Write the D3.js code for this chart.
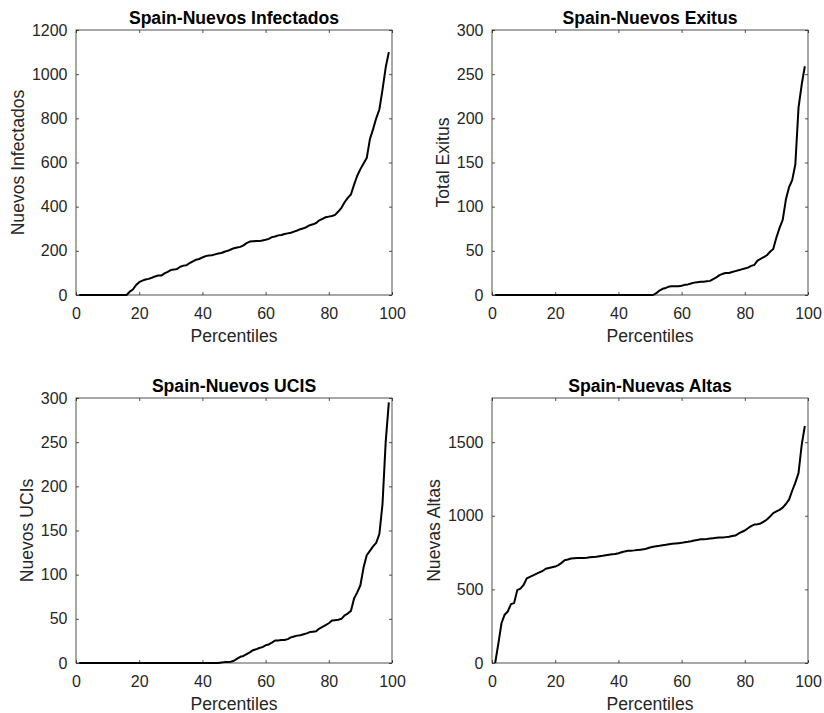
<!DOCTYPE html>
<html>
<head>
<meta charset="utf-8">
<script src="https://cdn.jsdelivr.net/npm/d3@7"></script>
<style>
  html, body { margin: 0; padding: 0; background: #fff; }
  svg { display: block; }
  text { font-family: "Liberation Sans", Arial, sans-serif; }
</style>
</head>
<body>
<svg id="chart" width="824" height="713"></svg>
<script>
// ---- Data ----
const percentiles = [
  1,2,3,4,5,6,7,8,9,10,11,12,13,14,15,16,17,18,19,20,
  21,22,23,24,25,26,27,28,29,30,31,32,33,34,35,36,37,38,39,40,
  41,42,43,44,45,46,47,48,49,50,51,52,53,54,55,56,57,58,59,60,
  61,62,63,64,65,66,67,68,69,70,71,72,73,74,75,76,77,78,79,80,
  81,82,83,84,85,86,87,88,89,90,91,92,93,94,95,96,97,98,99
];

const nuevosInfectados = [
  0,0,0,0,0,0,0,0,0,0,                 // 1-10
  0,0,0,0,0,0,15,25,45,58,             // 11-20
  65,70,73,78,84,88,88,98,105,113,     // 21-30
  115,118,128,133,135,145,152,160,163,170, // 31-40
  176,179,180,184,188,190,196,200,206,212, // 41-50
  215,218,225,235,242,243,244,244,247,250, // 51-60
  254,262,265,270,272,276,279,282,287,292, // 61-70
  298,302,308,316,320,326,338,345,352,355, // 71-80
  358,363,378,395,420,440,455,500,540,570, // 81-90
  595,620,705,750,800,840,930,1030,1100    // 91-99
];

const nuevosExitus = [
  0,0,0,0,0,0,0,0,0,0,                 // 1-10
  0,0,0,0,0,0,0,0,0,0,                 // 11-20
  0,0,0,0,0,0,0,0,0,0,                 // 21-30
  0,0,0,0,0,0,0,0,0,0,                 // 31-40
  0,0,0,0,0,0,0,0,0,0,                 // 41-50
  0,2,5,7,8,9.5,10,10,10,10.5,         // 51-60
  11.5,12,13,14,14.5,15,15,15.5,16,18, // 61-70
  20,22.5,24,25,25,26,27,28,29,30,     // 71-80
  31,33,34,39,41,43,45,49,52,65,       // 81-90
  76,85,108,122,130,148,212,238,259    // 91-99
];

const nuevosUCIs = [
  0,0,0,0,0,0,0,0,0,0,                 // 1-10
  0,0,0,0,0,0,0,0,0,0,                 // 11-20
  0,0,0,0,0,0,0,0,0,0,                 // 21-30
  0,0,0,0,0,0,0,0,0,0,                 // 31-40
  0,0,0,0,0,0.5,1,1,1.5,2.5,           // 41-50
  5,7,8,10,12,14.5,15.5,17,18,20,      // 51-60
  21,23,25.5,25.5,26,26,27,29,30,31,   // 61-70
  31.5,32.5,33.5,35,35.5,36,39,41,43,45, // 71-80
  48,48.5,49,50,54,56,59,73,80,88,     // 81-90
  108,122,127,132,136,146,180,250,295  // 91-99
];

const nuevasAltas = [
  0,130,270,328,350,400,407,495,505,530,   // 1-10
  575,585,595,605,615,625,640,645,650,655, // 11-20
  665,680,698,703,710,712,713,714,714,715, // 21-30
  718,720,722,725,728,732,735,738,740,745, // 31-40
  752,758,762,763,765,768,770,772,778,785, // 41-50
  790,793,796,800,803,807,810,812,814,816, // 51-60
  820,823,827,832,836,840,840,842,845,848, // 61-70
  850,852,853,855,857,862,866,878,890,900, // 71-80
  915,930,940,942,948,960,975,995,1018,1030, // 81-90
  1040,1055,1080,1110,1170,1225,1290,1480,1610 // 91-99
];

const titles = ["Spain-Nuevos Infectados", "Spain-Nuevos Exitus", "Spain-Nuevos UCIS", "Spain-Nuevas Altas"];
const yLabels = ["Nuevos Infectados", "Total Exitus", "Nuevos UCIs", "Nuevas Altas"];
const xLabel = "Percentiles";
const xTicks = [0, 20, 40, 60, 80, 100];
const yTicksInfectados = [0, 200, 400, 600, 800, 1000, 1200];
const yTicksExitus = [0, 50, 100, 150, 200, 250, 300];
const yTicksUCIs = [0, 50, 100, 150, 200, 250, 300];
const yTicksAltas = [0, 500, 1000, 1500];
const yMax = [1200, 300, 300, 1800];

// ---- Layout ----
const panels = [
  { left: 76,  top: 30,  series: nuevosInfectados, yTicks: yTicksInfectados },
  { left: 492, top: 30,  series: nuevosExitus,     yTicks: yTicksExitus },
  { left: 76,  top: 398, series: nuevosUCIs,       yTicks: yTicksUCIs },
  { left: 492, top: 398, series: nuevasAltas,      yTicks: yTicksAltas }
];
const W = 316, H = 265;
const axisColor = "#262626";
const tickFont = 16, labelFont = 17.6;

const svg = d3.select("#chart");

panels.forEach((p, i) => {
  const g = svg.append("g").attr("transform", `translate(${p.left},${p.top})`);
  const x = d3.scaleLinear().domain([0, 100]).range([0, W]);
  const y = d3.scaleLinear().domain([0, yMax[i]]).range([H, 0]);

  // Axes with inward ticks
  const ax = [
    g.append("g").attr("transform", `translate(0,${H})`)
      .call(d3.axisBottom(x).tickValues(xTicks).tickFormat(d3.format("d")).tickSizeInner(-3).tickSizeOuter(0).tickPadding(12.2)),
    g.append("g")
      .call(d3.axisTop(x).tickValues(xTicks).tickFormat("").tickSizeInner(-3).tickSizeOuter(0)),
    g.append("g")
      .call(d3.axisLeft(y).tickValues(p.yTicks).tickFormat(d3.format("d")).tickSizeInner(-3).tickSizeOuter(0).tickPadding(8.5)),
    g.append("g").attr("transform", `translate(${W},0)`)
      .call(d3.axisRight(y).tickValues(p.yTicks).tickFormat("").tickSizeInner(-3).tickSizeOuter(0))
  ];
  ax.forEach(a => {
    a.select(".domain").remove();
    a.selectAll(".tick line").attr("stroke", axisColor).attr("stroke-width", 0.8);
    a.selectAll(".tick text").attr("fill", axisColor)
      .style("font-size", tickFont + "px")
      .style("font-family", "'Liberation Sans', Arial, sans-serif");
  });

  // Box
  g.append("rect").attr("x", 0).attr("y", 0).attr("width", W).attr("height", H)
    .attr("fill", "none").attr("stroke", axisColor).attr("stroke-width", 0.8);

  // Line
  const line = d3.line().x((d, k) => x(percentiles[k])).y(d => y(d));
  g.append("path").datum(p.series)
    .attr("d", line)
    .attr("fill", "none").attr("stroke", "#000")
    .attr("stroke-width", 2).attr("stroke-linejoin", "round");

  // Title
  g.append("text").attr("x", W / 2).attr("y", -6.5)
    .attr("text-anchor", "middle").attr("font-weight", "bold")
    .attr("font-size", labelFont).attr("fill", "#000")
    .text(titles[i]);

  // X label
  g.append("text").attr("x", W / 2).attr("y", H + 46.5)
    .attr("text-anchor", "middle").attr("font-size", labelFont).attr("fill", axisColor)
    .text(xLabel);

  // Y label, placed left of the widest tick label
  let maxW = 0;
  ax[2].selectAll(".tick text").each(function () { maxW = Math.max(maxW, this.getBBox().width); });
  const bx = -8.5 - maxW - 7.5;
  g.append("text").attr("transform", `translate(${bx},${H / 2}) rotate(-90)`)
    .attr("text-anchor", "middle").attr("font-size", labelFont).attr("fill", axisColor)
    .text(yLabels[i]);

  if (p.series.length !== percentiles.length) {
    g.append("text").attr("x", 10).attr("y", 20).attr("fill", "red").text("len " + p.series.length);
  }
});
</script>
</body>
</html>
